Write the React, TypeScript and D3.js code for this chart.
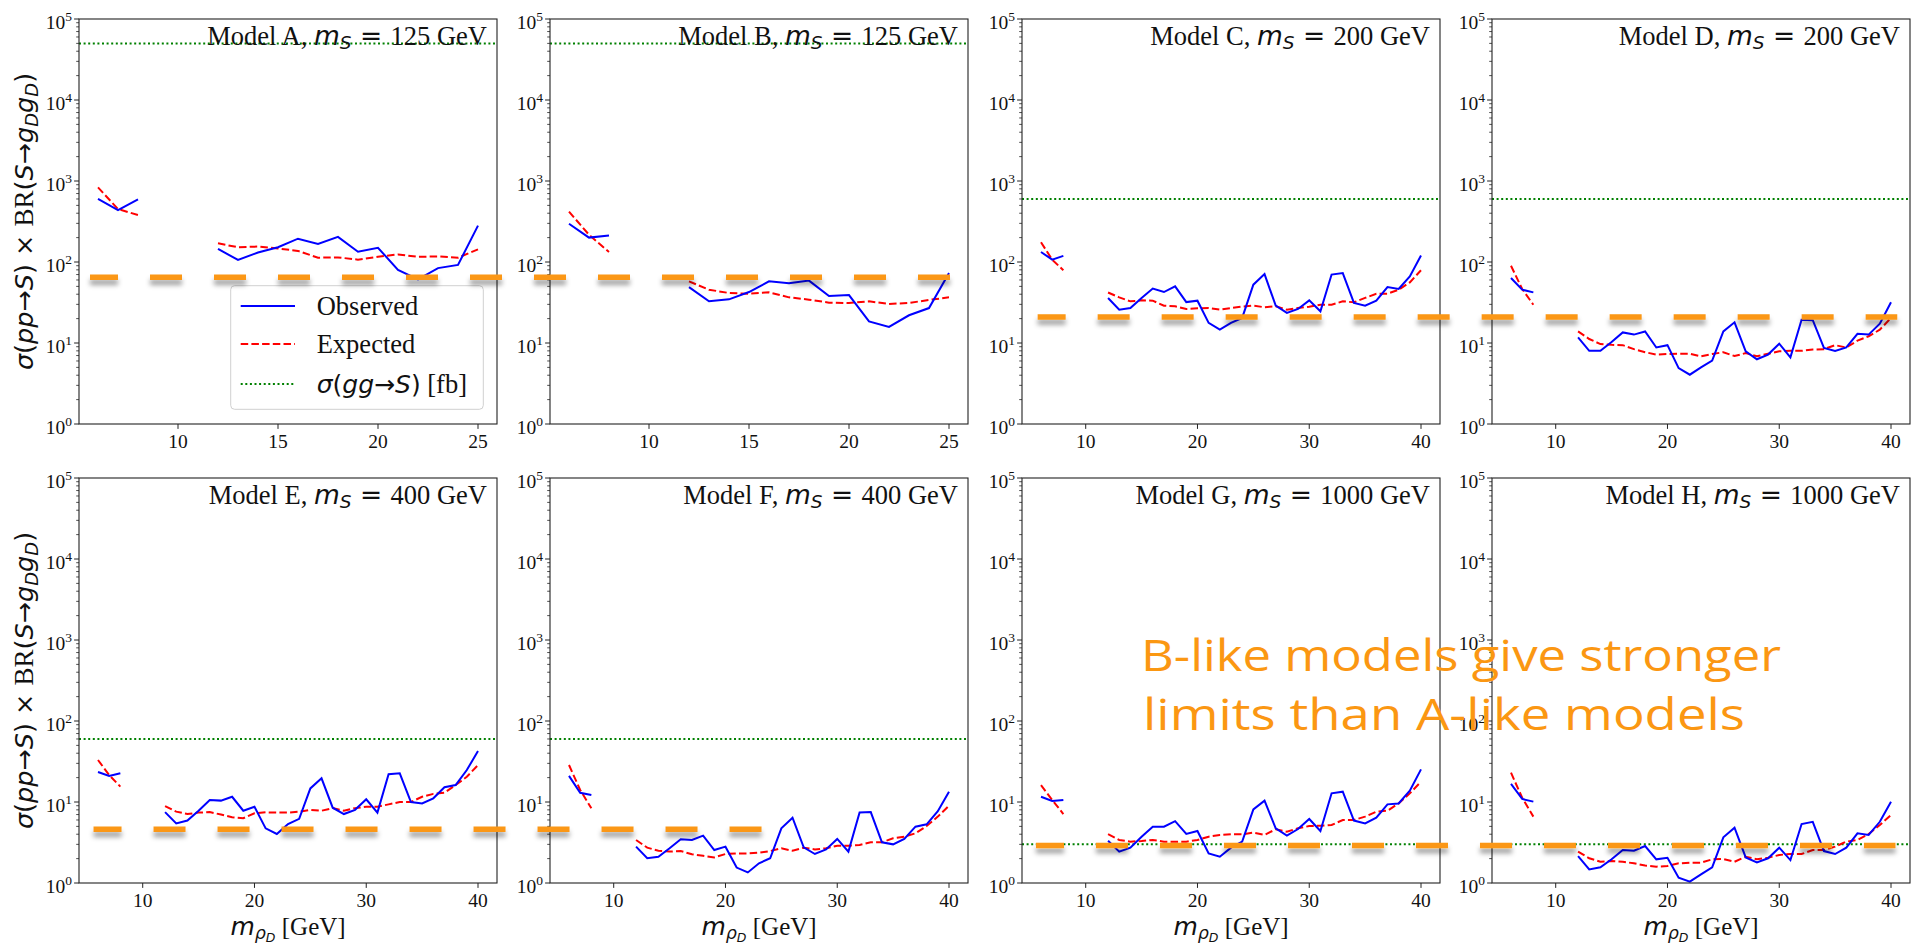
import React from 'react';
import * as d3 from 'd3';

const W = 1915;
const H = 945;

// ---------- data ----------
const modelNames = ['A', 'B', 'C', 'D', 'E', 'F', 'G', 'H'];
const scalarMass = [125, 125, 200, 200, 400, 400, 1000, 1000];
const ggXsec = [50000, 50000, 600, 600, 60, 60, 3, 3];

const massAB = [6, 7, 8, 12, 13, 14, 15, 16, 17, 18, 19, 20, 21, 22, 23, 24, 25];
const massCH = [6, 7, 8, 12, 13, 14, 15, 16, 17, 18, 19, 20, 21, 22, 23, 24, 25, 26, 27, 28, 29, 30, 31, 32, 33, 34, 35, 36, 37, 38, 39, 40];

const obsA = [600, 438, 594, 145, 106, 131, 152, 194, 167, 204, 134, 150, 80, 61, 84, 92, 281];
const expA = [835, 451, 380, 170, 152, 155, 147, 137, 113, 114, 107, 116, 124, 116, 117, 113, 143];
const obsB = [297, 200, 213, 49, 32.7, 34.6, 42.6, 57.7, 54.5, 58.9, 38, 39.1, 18.5, 15.8, 22, 27, 73];
const expB = [418, 217, 133, 57.7, 45.5, 41.4, 40.6, 42.2, 36.6, 34.3, 31.5, 31.2, 32.7, 30.3, 31.2, 34, 36.6];
const obsC = [133, 107, 119, 36, 25.8, 27, 36, 47, 42.6, 50, 32, 33.3, 17.7, 14.6, 17.7, 20.4, 52.5, 71, 28.9, 23.5, 26.3, 33.6, 24.6, 70, 73, 31.2, 28.9, 33.3, 49, 46.4, 66.5, 120];
const expC = [175, 107, 79, 42, 36.6, 32.7, 33.6, 33.3, 28.9, 28.4, 26.3, 26.8, 27, 25.8, 27, 28.1, 28.9, 27.6, 28.4, 25.8, 27, 28.1, 29.7, 29.7, 32.7, 31.8, 36, 40.6, 40.6, 45.5, 56, 79];
const obsD = [63.5, 45.5, 42.2, 11.7, 8.0, 8.0, 10.3, 13.5, 12.7, 13.9, 8.8, 9.4, 4.9, 4.06, 5.0, 6.05, 13.9, 18, 7.9, 6.3, 7.2, 9.8, 6.65, 19.4, 19.1, 8.7, 8.0, 8.8, 13, 12.7, 17.3, 31.8];
const expD = [90, 46.4, 29.7, 13.9, 11.2, 9.7, 9.5, 9.4, 8.4, 7.7, 7.2, 7.3, 7.35, 7.35, 6.85, 7.3, 7.7, 6.9, 7.5, 6.85, 7.35, 7.9, 8.0, 8.0, 8.3, 8.4, 9.4, 8.8, 10.7, 12.1, 14.6, 20.4];
const obsE = [23.5, 21, 22.6, 7.5, 5.45, 5.9, 7.8, 10.6, 10.4, 11.6, 7.8, 8.75, 4.73, 4.03, 5.35, 6.2, 14.7, 19.6, 8.5, 7.1, 8.0, 10.8, 7.4, 22, 22.6, 10, 9.6, 11.1, 15.2, 16.2, 24.8, 42.6];
const expE = [33, 21.5, 15.5, 8.9, 7.6, 7.1, 7.4, 7.5, 7.0, 6.5, 6.3, 7.25, 7.45, 7.4, 7.4, 7.6, 8.0, 7.8, 8.4, 7.8, 8.4, 8.75, 8.75, 9.35, 10, 10, 11.6, 12.6, 13, 16.2, 20.5, 28.6];
const obsF = [21, 13, 12.2, 2.81, 2.02, 2.11, 2.68, 3.46, 3.4, 3.84, 2.55, 2.81, 1.55, 1.35, 1.75, 2.02, 4.73, 6.4, 2.76, 2.28, 2.6, 3.5, 2.44, 7.4, 7.5, 3.18, 3.0, 3.5, 4.96, 5.3, 7.7, 13.4];
const expF = [28.6, 14.1, 8.35, 3.4, 2.73, 2.5, 2.44, 2.48, 2.26, 2.17, 2.07, 2.28, 2.32, 2.32, 2.37, 2.48, 2.68, 2.5, 2.73, 2.6, 2.68, 2.89, 2.89, 2.95, 3.18, 3.18, 3.56, 3.73, 4.1, 5.05, 6.6, 9.0];
const obsG = [11.6, 10.3, 10.6, 3.33, 2.44, 2.73, 3.73, 4.96, 4.96, 5.8, 4.03, 4.39, 2.32, 2.11, 2.73, 3.24, 8.1, 10.4, 4.73, 3.84, 4.64, 6.17, 4.39, 12.8, 13.4, 5.9, 5.45, 6.4, 9.35, 9.6, 13.8, 25.3];
const expG = [16.2, 10.6, 7.1, 4.0, 3.4, 3.24, 3.3, 3.4, 3.24, 3.24, 3.24, 3.4, 3.73, 3.92, 4.0, 4.0, 4.18, 3.92, 4.6, 4.3, 4.73, 5.05, 5.1, 5.2, 6.0, 6.0, 6.6, 7.6, 7.8, 9.6, 12.8, 17.8];
const obsH = [16.7, 10.9, 10.1, 2.15, 1.47, 1.56, 1.96, 2.55, 2.5, 2.86, 1.96, 2.05, 1.16, 1.04, 1.28, 1.56, 3.66, 4.82, 2.07, 1.8, 2.02, 2.73, 1.92, 5.35, 5.7, 2.48, 2.28, 2.73, 4.1, 3.92, 5.7, 10.1];
const expH = [23, 11.3, 6.6, 2.44, 2.02, 1.83, 1.87, 1.83, 1.75, 1.64, 1.59, 1.62, 1.75, 1.78, 1.78, 1.96, 1.98, 1.83, 2.11, 1.96, 2.05, 2.22, 2.28, 2.28, 2.55, 2.55, 2.81, 3.24, 3.4, 4.03, 5.2, 6.9];

const observed = [obsA, obsB, obsC, obsD, obsE, obsF, obsG, obsH];
const expected = [expA, expB, expC, expD, expE, expF, expG, expH];

const xTicksAB = [10, 15, 20, 25];
const xTicksCH = [10, 20, 30, 40];
const yTickExponents = [0, 1, 2, 3, 4, 5];

// highlighted limit levels (annotation): level, from panel/x, to panel/x
const limitLevels = [65, 21, 4.6, 2.9];
const limitFromPanel = [0, 2, 4, 6];
const limitFromX = [5.6, 5.7, 5.6, 5.55];
const limitToPanel = [1, 3, 5, 7];
const limitToX = [25.07, 40.56, 25.07, 40.4];

const noteLines = ['B-like models give stronger', 'limits than A-like models'];

// ---------- layout ----------
const colLeft = [79, 550, 1022, 1492];
const rowTop = [19, 478];
const PW = 418;
const PH = 405;

const SERIF = "'Liberation Serif', 'Times New Roman', Times, serif";
const MATH = "'DejaVu Sans', sans-serif";
const ORANGE = '#FB9712';

function makePanel(i: number) {
  const row = Math.floor(i / 4);
  const col = i % 4;
  const xs = i < 2 ? massAB : massCH;
  const [mn, mx] = d3.extent(xs) as [number, number];
  const pad = 0.05 * (mx - mn);
  const left = colLeft[col];
  const top = rowTop[row];
  const x = d3.scaleLinear().domain([mn - pad, mx + pad]).range([left, left + PW]);
  const y = d3.scaleLog().domain([1, 1e5]).range([top + PH, top]);
  return { i, row, col, xs, x, y, left, top, ticks: i < 2 ? xTicksAB : xTicksCH };
}

const panels = modelNames.map((_, i) => makePanel(i));

function segments(xs: number[], ys: number[]): [number, number][][] {
  const segs: [number, number][][] = [];
  let cur: [number, number][] = [];
  xs.forEach((xv, k) => {
    if (k > 0 && xv - xs[k - 1] > 1) {
      segs.push(cur);
      cur = [];
    }
    cur.push([xv, ys[k]]);
  });
  segs.push(cur);
  return segs;
}

function Panel({ p }: { p: ReturnType<typeof makePanel> }) {
  const { i, x, y, left, top, xs } = p;
  const line = d3
    .line<[number, number]>()
    .x((d) => x(d[0]))
    .y((d) => y(d[1]));
  const bottom = top + PH;
  const right = left + PW;
  const minor: number[] = [];
  for (let k = 0; k < 5; k++) for (let m = 2; m <= 9; m++) minor.push(m * Math.pow(10, k));
  return (
    <g>
      {/* green xsec line */}
      <line x1={left} x2={right} y1={y(ggXsec[i])} y2={y(ggXsec[i])} stroke="#008000" strokeWidth={2} strokeDasharray="2 2.6" />
      {segments(xs, expected[i]).map((s, k) => (
        <path key={'e' + k} d={line(s) || ''} fill="none" stroke="#FF0000" strokeWidth={2} strokeDasharray="7.5 3.2" />
      ))}
      {segments(xs, observed[i]).map((s, k) => (
        <path key={'o' + k} d={line(s) || ''} fill="none" stroke="#0000FF" strokeWidth={2} />
      ))}
      {/* frame */}
      <rect x={left} y={top} width={PW} height={PH} fill="none" stroke="#222" strokeWidth={1.1} />
      {/* y ticks */}
      {minor.map((v) => (
        <line key={'m' + v} x1={left} x2={left - 2.8} y1={y(v)} y2={y(v)} stroke="#222" strokeWidth={0.8} />
      ))}
      {yTickExponents.map((e) => (
        <g key={'y' + e}>
          <line x1={left} x2={left - 4.9} y1={y(Math.pow(10, e))} y2={y(Math.pow(10, e))} stroke="#222" strokeWidth={1} />
          <text x={left - 7} y={y(Math.pow(10, e)) + 10} textAnchor="end" fontFamily={SERIF} fontSize={19.5} fill="#111">
            10
            <tspan fontSize={13.5} dy={-8}>{e}</tspan>
          </text>
        </g>
      ))}
      {/* x ticks */}
      {p.ticks.map((t) => (
        <g key={'x' + t}>
          <line x1={x(t)} x2={x(t)} y1={bottom} y2={bottom + 4.9} stroke="#222" strokeWidth={1} />
          <text x={x(t)} y={bottom + 24} textAnchor="middle" fontFamily={SERIF} fontSize={19.5} fill="#111">
            {t}
          </text>
        </g>
      ))}
      {/* title */}
      <text x={right - 10} y={top + 26} textAnchor="end" fontFamily={SERIF} fontSize={26.5} fill="#111">
        <tspan>{`Model ${modelNames[i]}, `}</tspan>
        <tspan fontFamily={MATH} fontStyle="italic">m</tspan>
        <tspan fontFamily={MATH} fontStyle="italic" fontSize={18.5} dy={4}>S</tspan>
        <tspan fontFamily={MATH} dy={-4}>{' = '}</tspan>
        <tspan>{`${scalarMass[i]} GeV`}</tspan>
      </text>
    </g>
  );
}

function YLabel({ cy }: { cy: number }) {
  return (
    <text transform={`translate(33, ${cy}) rotate(-90)`} textAnchor="middle" fontFamily={MATH} fontSize={25.5} fill="#111">
      <tspan fontStyle="italic">σ</tspan>
      <tspan>(</tspan>
      <tspan fontStyle="italic">pp</tspan>
      <tspan>→</tspan>
      <tspan fontStyle="italic">S</tspan>
      <tspan>) × </tspan>
      <tspan fontFamily={SERIF} fontSize={27}> BR</tspan>
      <tspan>(</tspan>
      <tspan fontStyle="italic">S</tspan>
      <tspan>→</tspan>
      <tspan fontStyle="italic">g</tspan>
      <tspan fontStyle="italic" fontSize={18} dy={5}>D</tspan>
      <tspan fontStyle="italic" dy={-5}>g</tspan>
      <tspan fontStyle="italic" fontSize={18} dy={5}>D</tspan>
      <tspan dy={-5}>)</tspan>
    </text>
  );
}

function XLabel({ cx }: { cx: number }) {
  return (
    <text x={cx} y={935} textAnchor="middle" fontFamily={MATH} fontSize={25} fill="#111">
      <tspan fontStyle="italic">m</tspan>
      <tspan fontStyle="italic" fontSize={17.5} dy={4}>ρ</tspan>
      <tspan fontStyle="italic" fontSize={12.5} dy={3}>D</tspan>
      <tspan fontFamily={SERIF} fontSize={25} dy={-7}>{' [GeV]'}</tspan>
    </text>
  );
}

function Legend() {
  const x0 = 230.7;
  const y0 = 285.7;
  const rows = [306, 344, 384];
  return (
    <g>
      <rect x={x0} y={y0} width={252.6} height={123.6} rx={4} fill="#fff" fillOpacity={0.8} stroke="#d0d0d0" strokeWidth={1} />
      <line x1={240.7} x2={295} y1={rows[0]} y2={rows[0]} stroke="#0000FF" strokeWidth={2} />
      <line x1={240.7} x2={295} y1={rows[1]} y2={rows[1]} stroke="#FF0000" strokeWidth={2} strokeDasharray="7.5 3.2" />
      <line x1={240.7} x2={295} y1={rows[2]} y2={rows[2]} stroke="#008000" strokeWidth={2} strokeDasharray="2 2.6" />
      <text x={316.7} y={rows[0] + 9} fontFamily={SERIF} fontSize={26.5} fill="#111">Observed</text>
      <text x={316.7} y={rows[1] + 9} fontFamily={SERIF} fontSize={26.5} fill="#111">Expected</text>
      <text x={316.7} y={rows[2] + 9} fontFamily={MATH} fontSize={25} fill="#111">
        <tspan fontStyle="italic">σ</tspan>
        <tspan>(</tspan>
        <tspan fontStyle="italic">gg</tspan>
        <tspan>→</tspan>
        <tspan fontStyle="italic">S</tspan>
        <tspan>)</tspan>
        <tspan fontFamily={SERIF} fontSize={26.5}>{' [fb]'}</tspan>
      </text>
    </g>
  );
}

export default function App() {
  return (
    <svg width={W} height={H} style={{ position: 'absolute', left: 0, top: 0, background: '#fff' }} xmlns="http://www.w3.org/2000/svg">
      <defs>
        <filter id="shadow" filterUnits="userSpaceOnUse" x={0} y={0} width={W} height={H}>
          <feDropShadow dx={0} dy={5} stdDeviation={2.6} floodColor="#000" floodOpacity={0.38} />
        </filter>
      </defs>
      <rect x={0} y={0} width={W} height={H} fill="#fff" />
      {panels.map((p) => (
        <Panel key={p.i} p={p} />
      ))}
      <YLabel cy={rowTop[0] + PH / 2} />
      <YLabel cy={rowTop[1] + PH / 2} />
      {[0, 1, 2, 3].map((c) => (
        <XLabel key={c} cx={colLeft[c] + PW / 2} />
      ))}
      <Legend />
      {/* highlighted limit dashes */}
      {limitLevels.map((lv, k) => {
        const pf = panels[limitFromPanel[k]];
        const pt = panels[limitToPanel[k]];
        const yy = pf.y(lv);
        return (
          <line
            key={'lim' + k}
            x1={pf.x(limitFromX[k])}
            x2={pt.x(limitToX[k])}
            y1={yy}
            y2={yy}
            stroke={ORANGE}
            strokeWidth={5.5}
            strokeDasharray="32 32"
            strokeDashoffset={4}
            filter="url(#shadow)"
          />
        );
      })}
      {/* handwritten note */}
      <text x={1141} y={671} fontFamily="'Comic Sans MS', 'Open Sans', sans-serif" fontSize={43} fill={ORANGE} textLength={640} lengthAdjust="spacingAndGlyphs">
        {noteLines[0]}
      </text>
      <text x={1143} y={730} fontFamily="'Comic Sans MS', 'Open Sans', sans-serif" fontSize={43} fill={ORANGE} textLength={602} lengthAdjust="spacingAndGlyphs">
        {noteLines[1]}
      </text>
    </svg>
  );
}
